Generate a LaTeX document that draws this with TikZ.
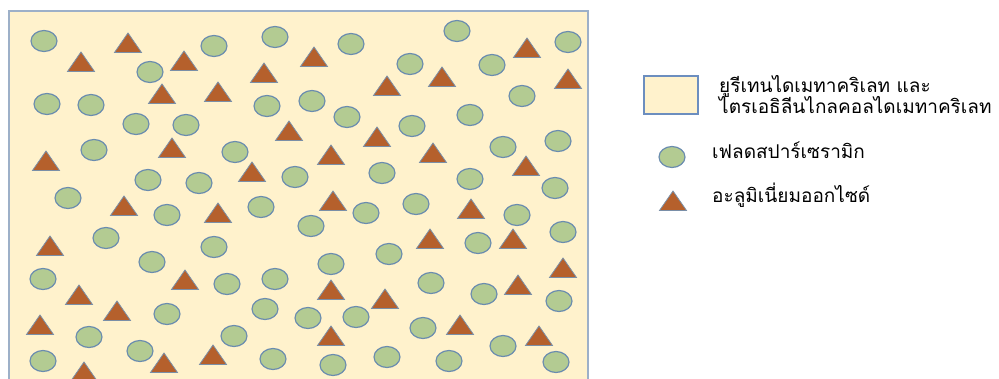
\documentclass[tikz,border=0pt]{standalone}
\usepackage{fontspec}
\newfontfamily\thaifont[Script=Thai]{Loma}
\usetikzlibrary{shapes.geometric}
\definecolor{bgfill}{HTML}{FFF2CC}
\definecolor{bgline}{HTML}{9DB0C8}
\definecolor{legline}{HTML}{6C8EBF}
\definecolor{grfill}{HTML}{B3CB92}
\definecolor{grline}{HTML}{6A8CAF}
\definecolor{trfill}{HTML}{B5602C}
\definecolor{trline}{HTML}{7A8FA8}
\tikzset{
  particle/.style={ellipse, draw=grline, fill=grfill, line width=1.2pt, minimum width=26pt, minimum height=21pt, inner sep=0pt},
  grain/.style={draw=trline, fill=trfill, line width=0.8pt, line join=miter},
  legtext/.style={anchor=base west, inner sep=0pt, font=\thaifont\fontsize{19}{19}\selectfont, text=black}
}
\begin{document}
\begin{tikzpicture}[x=1pt,y=-1pt]
\useasboundingbox (0,0) rectangle (999,378);
\fill[white] (0,0) rectangle (999,378);
% matrix
\draw[fill=bgfill, draw=bgline, line width=1.5pt] (9,11) rectangle (588,395);
% particles
\foreach \x/\y [count=\i] in {44/41,214/46,275/37,150/72,47/104,91/105,136/124,186/125,267/106,94/150,235/152,148/180,199/183,295/177,
68/198,167/215,261/207,106/238,214/247,152/262,43/279,227/284,275/279,167/314,265/309,89/337,234/336,140/351,43/361,273/359,
351/44,457/31,410/64,492/65,568/42,312/101,347/117,412/126,470/115,522/96,503/147,558/141,382/173,470/179,555/188,
366/213,416/204,311/226,517/215,563/232,478/243,389/254,331/264,431/283,484/294,559/301,308/318,356/317,423/328,503/346,333/365,387/357,449/361,556/362}
  \node[particle] (p\i) at (\x,\y) {};
% grains
\foreach \x/\y in {128/33,81/52,184/51,264/63,162/84,218/82,289/121,172/138,46/151,252/162,
124/196,218/203,50/236,185/270,79/285,117/301,40/315,213/345,164/353,84/362,
314/47,387/76,442/67,527/38,568/69,377/127,331/145,433/143,526/156,
333/191,471/199,430/229,513/229,563/258,331/280,385/289,518/275,331/326,460/315,539/326}
  \draw[grain] (\x,\y) -- ++(13.5,19.5) -- ++(-27,0) -- cycle;
% legend
\draw[fill=bgfill, draw=legline, line width=1.2pt] (644,76) rectangle (698,114);
\node[legtext] (l1) at (719,92) {ยูรีเทนไดเมทาคริเลท และ};
\node[legtext] (l2) at (719,113) {ไตรเอธิลีนไกลคอลไดเมทาคริเลท};
\node[particle] (lc) at (672,157) {};
\node[legtext] (l3) at (712,158) {เฟลดสปาร์เซรามิก};
\draw[grain] (673,191) -- ++(13.5,19.5) -- ++(-27,0) -- cycle;
\node[legtext] (l4) at (712,202) {อะลูมิเนี่ยมออกไซด์};
\end{tikzpicture}
\end{document}
